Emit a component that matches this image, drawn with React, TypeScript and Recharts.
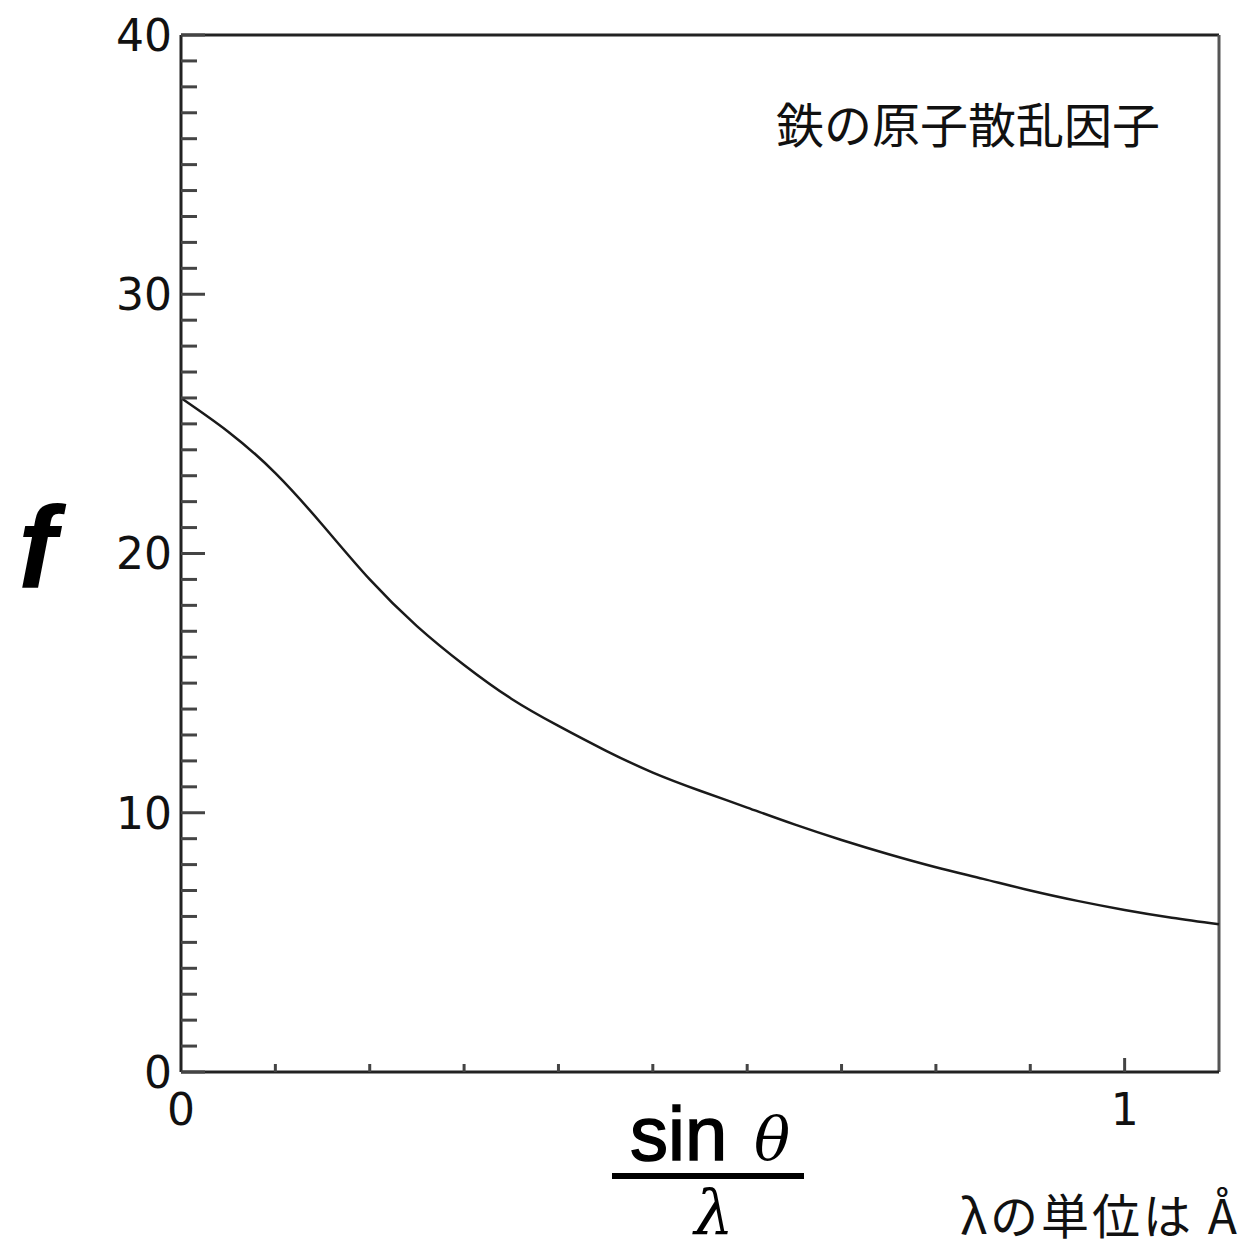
import { ComposedChart, Line, XAxis, YAxis, ReferenceLine } from 'recharts'

// sin(theta)/lambda in 1/Å
const sinThetaOverLambda = [0, 0.05, 0.1, 0.15, 0.2, 0.25, 0.3, 0.35, 0.4, 0.45, 0.5, 0.55, 0.6, 0.65, 0.7, 0.75, 0.8, 0.85, 0.9, 0.95, 1.0, 1.05, 1.1]
// atomic scattering factor of iron
const scatteringFactor = [26.0, 24.7, 23.1, 21.1, 19.0, 17.2, 15.7, 14.4, 13.35, 12.4, 11.55, 10.85, 10.2, 9.55, 8.95, 8.4, 7.9, 7.45, 7.0, 6.6, 6.25, 5.95, 5.7]

const xTicks = [0, 0.1, 0.2, 0.3, 0.4, 0.5, 0.6, 0.7, 0.8, 0.9, 1.0]
const yTicks = Array.from({ length: 41 }, (_, i) => i)

const title = '鉄の原子散乱因子'
const unitNote = 'λの単位は Å'

const data = sinThetaOverLambda.map((s, i) => ({ s, f: scatteringFactor[i] }))

const AXIS = '#222'
const TICK = '#444'
const NUM_FONT = '"DejaVu Sans", sans-serif'

function YTick(props: any) {
  const { x, y, payload } = props
  const v = payload.value
  const major = v % 10 === 0
  return (
    <g>
      <line x1={x} x2={x + (major ? 24 : 16)} y1={y} y2={y} stroke={TICK} strokeWidth={3} />
      {major && (
        <text x={x - 9} y={y} dy="0.36em" textAnchor="end" fontFamily={NUM_FONT} fontSize={44} fill="#111">
          {v}
        </text>
      )}
    </g>
  )
}

function XTick(props: any) {
  const { x, y, payload } = props
  const v = payload.value
  const major = Math.abs(v - Math.round(v)) < 1e-6
  return (
    <g>
      {v > 0 && <line x1={x} x2={x} y1={y} y2={y - (major ? 14 : 8)} stroke={TICK} strokeWidth={3} />}
      {major && (
        <text x={x} y={y + 53} textAnchor="middle" fontFamily={NUM_FONT} fontSize={44} fill="#111">
          {Math.round(v)}
        </text>
      )}
    </g>
  )
}

export default function App() {
  return (
    <div style={{ position: 'absolute', left: 0, top: 0, width: 1246, height: 1251, background: '#fff' }}>
      <ComposedChart
        width={1246}
        height={1251}
        data={data}
        margin={{ top: 35, right: 27, left: 0, bottom: 0 }}
      >
        <XAxis
          dataKey="s"
          type="number"
          domain={[0, 1.1]}
          ticks={xTicks}
          interval={0}
          height={179}
          tickSize={0}
          tickMargin={0}
          tickLine={false}
          tick={<XTick />}
          axisLine={{ stroke: AXIS, strokeWidth: 3 }}
        />
        <YAxis
          type="number"
          domain={[0, 40]}
          ticks={yTicks}
          interval={0}
          width={181}
          tickSize={0}
          tickMargin={0}
          tickLine={false}
          tick={<YTick />}
          axisLine={{ stroke: AXIS, strokeWidth: 3 }}
        />
        {/* frame: top and right edges */}
        <ReferenceLine y={40} stroke={AXIS} strokeWidth={3} ifOverflow="visible" />
        <ReferenceLine x={1.1} stroke="#555" strokeWidth={3} ifOverflow="visible" />
        <Line
          dataKey="f"
          type="natural"
          stroke="#1a1a1a"
          strokeWidth={2.5}
          dot={false}
          isAnimationActive={false}
        />
      </ComposedChart>

      {/* axis titles and notes */}
      <svg width={1246} height={1251} style={{ position: 'absolute', left: 0, top: 0, pointerEvents: 'none' }}>
        <text x={1160} y={143} textAnchor="end" fontFamily='"Noto Sans CJK JP", sans-serif' fontSize={48} fill="#111">
          {title}
        </text>
        <text x={18} y={588} fontFamily='"Liberation Sans", Arial, sans-serif' fontWeight="bold" fontStyle="italic" fontSize={116} fill="#000">
          f
        </text>
        <text x={630} y={1160} fontFamily='"Liberation Sans", Arial, sans-serif' fontSize={76} fill="#000" stroke="#000" strokeWidth={1.5}>
          sin
        </text>
        <text x={754} y={1160} fontFamily='"DejaVu Serif", serif' fontStyle="italic" fontSize={60} fill="#000">
          θ
        </text>
        <line x1={612} x2={804} y1={1176} y2={1176} stroke="#000" strokeWidth={6} />
        <text x={714} y={1234} textAnchor="middle" fontFamily='"DejaVu Serif", serif' fontStyle="italic" fontSize={62} fill="#000">
          λ
        </text>
        <text x={1240} y={1234} textAnchor="end" fontFamily='"Noto Sans CJK JP", sans-serif' fontSize={48} letterSpacing={3} fill="#111">
          {unitNote}
        </text>
      </svg>
    </div>
  )
}
